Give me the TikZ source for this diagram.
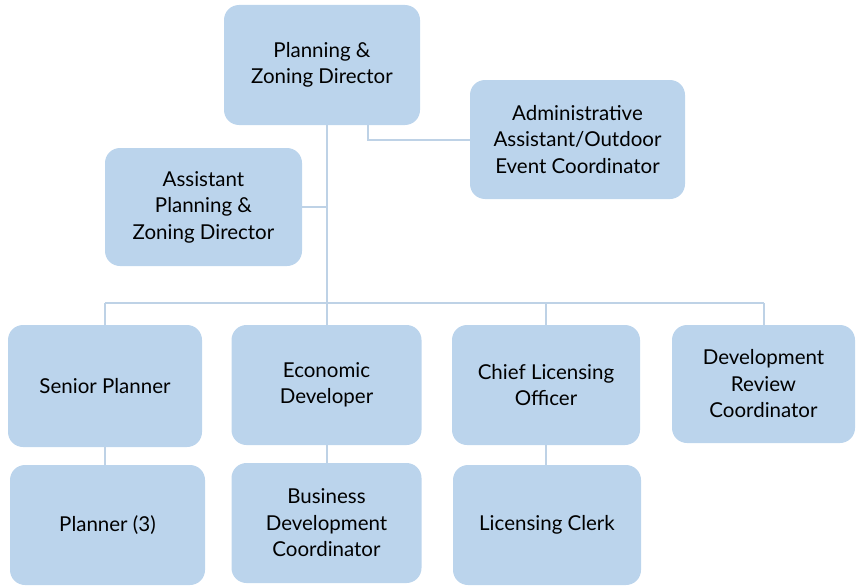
\documentclass[tikz,border=0pt]{standalone}
\usepackage{fontspec}
\setmainfont{Lato}
\definecolor{boxfill}{RGB}{187,212,236}
\definecolor{linkcol}{RGB}{190,210,230}
\begin{document}
\begin{tikzpicture}[x=1pt,y=-1pt,
        box/.style={draw=none,fill=boxfill,rounded corners=15pt,align=center,inner sep=0pt,
                    font=\fontsize{20.5}{26.5}\selectfont},
        link/.style={linkcol,line width=2pt}]
        \useasboundingbox (0,0) rectangle (856,586);
        % Top
        \node[box,minimum width=196,minimum height=120] (dir) at (322,65) {Planning \&\\Zoning Director};
        \node[box,minimum width=215,minimum height=119] (admin) at (577.5,139.5) {Administrative\\Assistant/Outdoor\\Event Coordinator};
        \node[box,minimum width=197,minimum height=118] (asst) at (203.5,207) {Assistant\\Planning \&\\Zoning Director};

        % Row 1
        \node[box,minimum width=194,minimum height=122] (senior) at (105,386) {Senior Planner};
        \node[box,minimum width=190,minimum height=120] (econ) at (326.5,385) {Economic\\Developer};
        \node[box,minimum width=188,minimum height=120] (chief) at (546,385) {Chief Licensing\\Officer};
        \node[box,minimum width=183,minimum height=118] (review) at (763.5,384) {Development\\Review\\Coordinator};

        % Row 2
        \node[box,minimum width=195,minimum height=120] (planner) at (107.5,525) {Planner (3)};
        \node[box,minimum width=190,minimum height=120] (busdev) at (326.5,523) {Business\\Development\\Coordinator};
        \node[box,minimum width=188,minimum height=120] (clerk) at (547,525) {Licensing Clerk};

        % Lines
        \coordinate (bus) at (0,303);
        \draw[link] ([xshift=46pt]dir.south) |- (admin.west);
        \draw[link] ([xshift=5pt]dir.south) -- ([xshift=5pt]dir.south |- bus);
        \draw[link] (asst.east) -- (asst.east -| econ.north);
        \draw[link] (senior.north |- bus) -- (review.north |- bus);
        \foreach \n in {senior,econ,chief,review}
            \draw[link] (\n.north) -- (\n.north |- bus);
        \draw[link] (senior.south) -- (planner.north -| senior.south);
        \draw[link] (econ.south) -- (busdev.north);
        \draw[link] (chief.south) -- (clerk.north -| chief.south);
\end{tikzpicture}
\end{document}
